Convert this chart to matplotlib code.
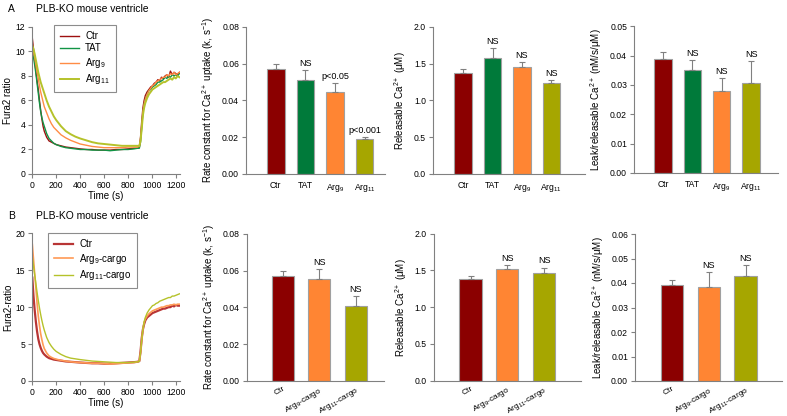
import matplotlib
matplotlib.use("Agg")
import matplotlib.pyplot as plt

plt.rcParams['font.family'] = ['Liberation Sans', 'DejaVu Sans']
plt.rcParams['mathtext.fontset'] = 'custom'
plt.rcParams['mathtext.rm'] = 'Liberation Sans'
plt.rcParams['mathtext.it'] = 'Liberation Sans'
plt.rcParams['mathtext.default'] = 'regular'

# ---------------- data ----------------
time_s = [0, 10, 20, 30, 40, 50, 60, 70, 80, 90, 100, 120, 140, 160, 180, 200,
          240, 280, 320, 360, 400, 450, 500, 550, 600, 650, 700, 750, 800, 850,
          880, 895, 905, 915, 925, 935, 945, 960, 975, 990, 1005, 1020, 1035,
          1050, 1065, 1080, 1095, 1110, 1125, 1140, 1155, 1170, 1185, 1200, 1215, 1230]

a_ctr = [11.1, 10.2, 9.3, 8.4, 7.6, 6.9, 6.0, 5.2, 4.5, 3.9, 3.5, 3.0, 2.7, 2.6, 2.5, 2.4,
         2.3, 2.2, 2.15, 2.1, 2.05, 2.0, 2.0, 1.95, 1.95, 1.95, 2.0, 2.0, 2.05, 2.1,
         2.1, 2.2, 3.0, 4.3, 5.4, 6.0, 6.4, 6.7, 6.9, 7.1, 7.2, 7.4, 7.5,
         7.7, 7.6, 7.9, 7.8, 8.0, 8.1, 7.9, 8.4, 8.1, 8.3, 8.2, 8.1, 8.3]
a_tat = [9.9, 9.5, 8.9, 8.2, 7.4, 6.6, 5.8, 5.1, 4.6, 4.2, 3.9, 3.3, 2.9, 2.7, 2.5, 2.4,
         2.25, 2.15, 2.1, 2.05, 2.0, 2.0, 1.95, 1.95, 1.95, 1.9, 1.95, 2.0, 2.0, 2.05,
         2.1, 2.1, 2.6, 3.8, 5.0, 5.7, 6.1, 6.5, 6.8, 6.9, 7.1, 7.2, 7.3,
         7.5, 7.5, 7.6, 7.7, 7.9, 7.8, 8.0, 7.9, 8.1, 8.0, 8.1, 8.0, 8.2]
a_arg9 = [10.3, 10.0, 9.5, 8.9, 8.3, 7.8, 7.2, 6.7, 6.3, 5.9, 5.5, 5.0, 4.5, 4.1, 3.8, 3.6,
          3.2, 2.95, 2.75, 2.6, 2.45, 2.35, 2.25, 2.2, 2.15, 2.15, 2.15, 2.15, 2.2, 2.2,
          2.2, 2.25, 2.8, 4.0, 5.1, 5.7, 6.1, 6.5, 6.8, 7.0, 7.2, 7.3, 7.5,
          7.6, 7.7, 7.8, 7.9, 7.9, 8.1, 8.0, 8.2, 8.1, 8.3, 8.1, 8.2, 8.3]
a_arg11 = [10.5, 10.2, 9.8, 9.3, 8.8, 8.3, 7.9, 7.5, 7.2, 6.9, 6.6, 6.0, 5.5, 5.1, 4.7, 4.4,
           3.9, 3.5, 3.25, 3.05, 2.9, 2.75, 2.6, 2.5, 2.45, 2.4, 2.35, 2.3, 2.3, 2.3,
           2.3, 2.3, 2.7, 3.7, 4.8, 5.4, 5.8, 6.2, 6.5, 6.7, 6.9, 7.0, 7.1,
           7.2, 7.3, 7.4, 7.5, 7.5, 7.6, 7.7, 7.8, 7.7, 7.9, 7.8, 8.0, 7.9]

b_ctr = [14.0, 11.5, 9.6, 8.0, 6.7, 5.7, 5.0, 4.5, 4.1, 3.8, 3.6, 3.3, 3.1, 3.0, 2.9, 2.85,
         2.75, 2.65, 2.6, 2.55, 2.5, 2.45, 2.4, 2.4, 2.35, 2.35, 2.4, 2.45, 2.5, 2.55,
         2.6, 2.7, 4.0, 5.8, 7.0, 7.7, 8.2, 8.6, 8.8, 9.0, 9.2, 9.3, 9.4,
         9.5, 9.6, 9.7, 9.8, 9.8, 9.9, 10.0, 10.0, 10.2, 10.1, 10.3, 10.2, 10.2]
b_arg9 = [18.5, 16.5, 14.5, 12.6, 10.5, 8.8, 7.5, 6.4, 5.6, 4.9, 4.4, 3.8, 3.4, 3.2, 3.05, 2.95,
          2.8, 2.7, 2.6, 2.55, 2.5, 2.45, 2.4, 2.4, 2.35, 2.3, 2.35, 2.4, 2.45, 2.5,
          2.6, 2.7, 3.8, 5.6, 7.0, 7.9, 8.4, 8.8, 9.1, 9.3, 9.5, 9.6, 9.7,
          9.8, 9.9, 10.0, 10.0, 10.1, 10.2, 10.2, 10.3, 10.3, 10.4, 10.3, 10.4, 10.4]
b_arg11 = [16.8, 15.6, 14.4, 13.2, 12.0, 10.9, 9.9, 9.0, 8.2, 7.5, 6.9, 5.9, 5.2, 4.7, 4.3, 4.0,
           3.6, 3.3, 3.1, 3.0, 2.9, 2.8, 2.7, 2.65, 2.6, 2.55, 2.5, 2.5, 2.5, 2.55,
           2.6, 2.65, 3.8, 5.6, 7.0, 8.0, 8.6, 9.2, 9.6, 9.9, 10.2, 10.3, 10.5,
           10.6, 10.8, 10.9, 11.0, 11.1, 11.2, 11.3, 11.3, 11.5, 11.5, 11.6, 11.7, 11.8]

a_groups = ['Ctr', 'TAT', 'Arg$_9$', 'Arg$_{11}$']
a_rate = [0.057, 0.051, 0.0445, 0.019]
a_rate_err = [0.003, 0.0055, 0.005, 0.0012]
a_rate_sig = ['', 'NS', 'p<0.05', 'p<0.001']
a_rel = [1.38, 1.58, 1.46, 1.24]
a_rel_err = [0.05, 0.13, 0.06, 0.04]
a_rel_sig = ['', 'NS', 'NS', 'NS']
a_leak = [0.039, 0.035, 0.028, 0.0307]
a_leak_err = [0.0022, 0.0035, 0.0045, 0.0075]
a_leak_sig = ['', 'NS', 'NS', 'NS']

b_groups = ['Ctr', 'Arg$_9$-cargo', 'Arg$_{11}$-cargo']
b_rate = [0.057, 0.0555, 0.041]
b_rate_err = [0.0028, 0.0055, 0.005]
b_rate_sig = ['', 'NS', 'NS']
b_rel = [1.38, 1.515, 1.47]
b_rel_err = [0.05, 0.06, 0.07]
b_rel_sig = ['', 'NS', 'NS']
b_leak = [0.039, 0.0385, 0.043]
b_leak_err = [0.0023, 0.0058, 0.0042]
b_leak_sig = ['', 'NS', 'NS']

# ---------------- style ----------------
W, H = 787, 416
fig = plt.figure(figsize=(W / 100, H / 100), dpi=100)

C_CTR = '#8B0000'
C_TAT = '#007A3A'
C_ARG9 = '#FF8533'
C_ARG11 = '#A6A600'
L_CTR = '#9E1010'
L_TAT = '#119445'
L_ARG9 = '#FF8C45'
L_ARG11 = '#B5C22A'
SPINE = '#808080'
FS_TICK = 6.2
FS_LAB = 7
FS_TITLE = 7.4


def px_axes(l, r, t, b):
    return fig.add_axes([l / W, (H - b) / H, (r - l) / W, (b - t) / H])


def style(ax):
    for s in ['top', 'right']:
        ax.spines[s].set_visible(False)
    for s in ['left', 'bottom']:
        ax.spines[s].set_color(SPINE)
        ax.spines[s].set_linewidth(0.8)
    ax.tick_params(colors='black', labelsize=FS_TICK, length=3, width=0.8,
                   color=SPINE, pad=2)


def line_panel(ax, series, labels, colors, lws, ymax, ystep, ylabel, leg_box):
    for vals, lab, c, lw in zip(series, labels, colors, lws):
        ax.plot(time_s, vals, color=c, lw=lw, label=lab)
    ax.set_xlim(0, 1235)
    ax.set_ylim(0, ymax)
    ax.set_xticks(range(0, 1201, 200))
    ax.set_yticks([v * ystep for v in range(int(ymax / ystep) + 1)])
    ax.set_xlabel('Time (s)', fontsize=FS_LAB, labelpad=1)
    ax.set_ylabel(ylabel, fontsize=FS_LAB, labelpad=2)
    style(ax)
    leg = ax.legend(loc='upper left', bbox_to_anchor=leg_box, fontsize=FS_LAB,
                    frameon=True, fancybox=False, handlelength=2.0,
                    borderpad=0.6, labelspacing=0.25, handletextpad=0.6,
                    borderaxespad=0)
    leg.get_frame().set_edgecolor('#707070')
    leg.get_frame().set_linewidth(0.8)


def bar_panel(ax, groups, vals, errs, sigs, colors, xlim, ymax, ystep, fmt,
              ylabel, rotate=False, width=0.6):
    x = list(range(len(groups)))
    ax.bar(x, vals, width=width, color=colors, edgecolor='#A0A0A0',
           linewidth=0.8, zorder=2)
    ax.errorbar(x, vals, yerr=[[0] * len(vals), errs], fmt='none',
                ecolor='#808080', elinewidth=0.8, capsize=2, capthick=0.8, zorder=3)
    for xi, v, e, s in zip(x, vals, errs, sigs):
        if s:
            ax.annotate(s, (xi, v + e), xytext=(0, 1.5), textcoords='offset points',
                        ha='center', va='bottom', fontsize=FS_TICK + 0.3)
    ax.set_xlim(*xlim)
    ax.set_ylim(0, ymax)
    n = int(round(ymax / ystep))
    ticks = [i * ystep for i in range(n + 1)]
    ax.set_yticks(ticks)
    ax.set_yticklabels([fmt.format(t) for t in ticks])
    ax.set_xticks(x)
    style(ax)
    if rotate:
        ax.set_xticklabels(groups, rotation=30, ha='right', rotation_mode='anchor',
                           fontsize=FS_TICK - 0.2)
        ax.tick_params(axis='x', length=0, pad=3)
    else:
        ax.set_xticklabels(groups)
        ax.tick_params(axis='x', length=0, pad=5)
    ax.set_ylabel(ylabel, fontsize=FS_LAB, labelpad=4)


rate_lab = 'Rate constant for Ca$^{2+}$ uptake (k, s$^{-1}$)'
rel_lab = 'Releasable Ca$^{2+}$ (\u03bcM)'
leak_lab = 'Leak/releasable Ca$^{2+}$ (nM/s/\u03bcM)'

# ---------------- row A ----------------
ax = px_axes(32.3, 180, 27, 174)
line_panel(ax, [a_ctr, a_tat, a_arg9, a_arg11], a_groups,
           [L_CTR, L_TAT, L_ARG9, L_ARG11], [1.0, 1.0, 1.0, 1.4],
           12, 2, 'Fura2 ratio', (0.147, 1.012))

colsA = [C_CTR, C_TAT, C_ARG9, C_ARG11]
ax = px_axes(246, 385, 27, 174)
bar_panel(ax, a_groups, a_rate, a_rate_err, a_rate_sig, colsA, (-1.01, 3.69),
          0.08, 0.02, '{:.2f}', rate_lab)
ax = px_axes(433, 585, 27, 174)
bar_panel(ax, a_groups, a_rel, a_rel_err, a_rel_sig, colsA, (-1.02, 4.14),
          2.0, 0.5, '{:.1f}', rel_lab)
ax = px_axes(634, 778, 26.3, 173)
bar_panel(ax, a_groups, a_leak, a_leak_err, a_leak_sig, colsA, (-0.99, 3.92),
          0.05, 0.01, '{:.2f}', leak_lab)

# ---------------- row B ----------------
ax = px_axes(32.3, 180, 233.3, 381)
line_panel(ax, [b_ctr, b_arg9, b_arg11], b_groups,
           ['#B83535', '#FF9A55', L_ARG11], [1.6, 1.2, 1.0],
           20, 5, 'Fura2-ratio', (0.106, 1.0))

colsB = [C_CTR, C_ARG9, C_ARG11]
ax = px_axes(246.7, 384, 233.7, 381)
bar_panel(ax, b_groups, b_rate, b_rate_err, b_rate_sig, colsB, (-0.99, 2.77),
          0.08, 0.02, '{:.2f}', rate_lab, rotate=True)
ax = px_axes(433.7, 581, 233.7, 380.7)
bar_panel(ax, b_groups, b_rel, b_rel_err, b_rel_sig, colsB, (-1.0, 3.0),
          2.0, 0.5, '{:.1f}', rel_lab, rotate=True)
ax = px_axes(635, 782, 234, 381)
bar_panel(ax, b_groups, b_leak, b_leak_err, b_leak_sig, colsB, (-1.0, 2.99),
          0.06, 0.01, '{:.2f}', leak_lab, rotate=True)

# ---------------- panel titles ----------------
fig.text(8 / W, 1 - 9 / H, 'A', fontsize=FS_TITLE, va='center', ha='left')
fig.text(36 / W, 1 - 9 / H, 'PLB-KO mouse ventricle', fontsize=FS_TITLE, va='center', ha='left')
fig.text(8 / W, 1 - 216 / H, 'B', fontsize=FS_TITLE, va='center', ha='left')
fig.text(36 / W, 1 - 216 / H, 'PLB-KO mouse ventricle', fontsize=FS_TITLE, va='center', ha='left')

fig.savefig('out.png', dpi=100)
